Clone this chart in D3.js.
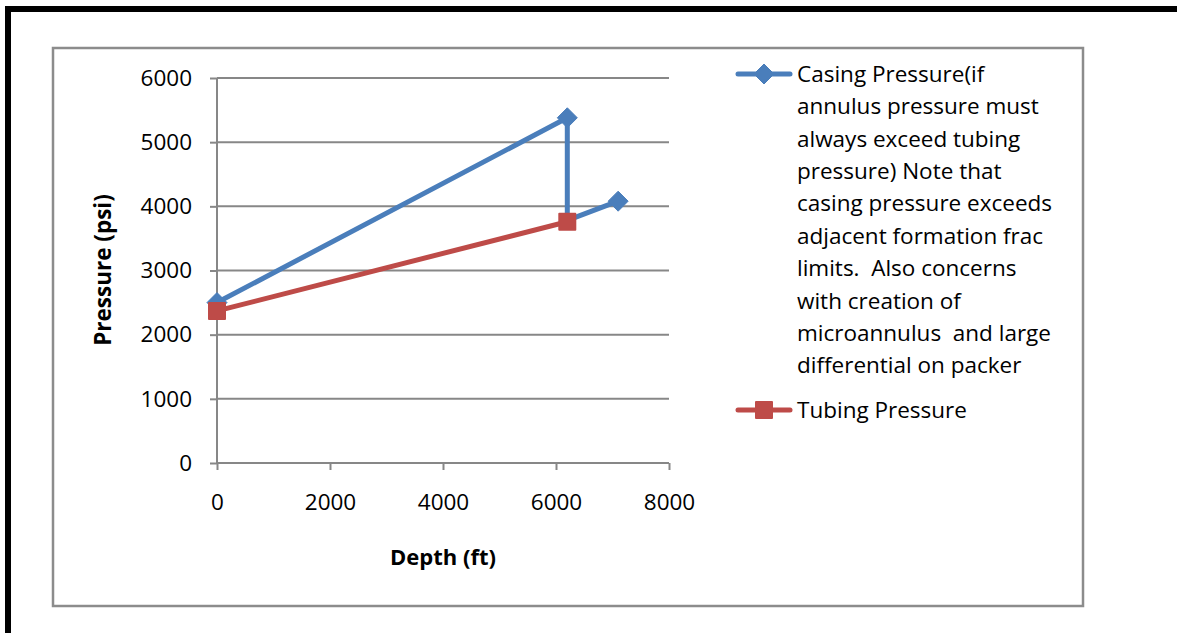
<!DOCTYPE html>
<html>
<head>
<meta charset="utf-8">
<script src="https://cdn.jsdelivr.net/npm/d3@7"></script>
<style>
  body { margin: 0; background: #fff; }
  text { font-family: "Open Sans", "Noto Sans", sans-serif; fill: #000; white-space: pre; }
</style>
</head>
<body>
<div id="graph"></div>
<script>
// data
const casingDepth = [0, 6200, 6200, 7100];
const casingPressure = [2500, 5380, 3780, 4080];
const tubingDepth = [0, 6200];
const tubingPressure = [2370, 3760];
const xTicks = [0, 2000, 4000, 6000, 8000];
const yTicks = [0, 1000, 2000, 3000, 4000, 5000, 6000];
const legendCasing = ["Casing Pressure(if", "annulus pressure must", "always exceed tubing",
  "pressure) Note that", "casing pressure exceeds", "adjacent formation frac",
  "limits.  Also concerns", "with creation of", "microannulus  and large",
  "differential on packer"];
const legendTubing = ["Tubing Pressure"];

const W = 1177, H = 633;
const svg = d3.select("#graph").append("svg")
  .attr("width", W).attr("height", H);

// outer black frame (top and left)
svg.append("rect").attr("x", 5).attr("y", 6).attr("width", W - 5).attr("height", 6).attr("fill", "#000");
svg.append("rect").attr("x", 5).attr("y", 6).attr("width", 6).attr("height", H - 6).attr("fill", "#000");

// grey chart frame
svg.append("rect").attr("x", 53).attr("y", 48).attr("width", 1030).attr("height", 558)
  .attr("fill", "none").attr("stroke", "#8c8c8c").attr("stroke-width", 2.5);

const x = d3.scaleLinear().domain([0, 8000]).range([217, 669]);
const y = d3.scaleLinear().domain([0, 6000]).range([463, 78]);

// gridlines
svg.append("g").selectAll("line").data(yTicks.filter(d => d > 0)).join("line")
  .attr("x1", x(0)).attr("x2", x(8000))
  .attr("y1", d => y(d)).attr("y2", d => y(d))
  .attr("stroke", "#878787").attr("stroke-width", 2);

// axes
const xAxis = svg.append("g").attr("transform", `translate(0,${y(0)})`)
  .call(d3.axisBottom(x).tickValues(xTicks).tickSize(7).tickPadding(24).tickFormat(d3.format("d")));
const yAxis = svg.append("g").attr("transform", `translate(${x(0)},0)`)
  .call(d3.axisLeft(y).tickValues(yTicks).tickSize(7).tickPadding(18).tickFormat(d3.format("d")));
[xAxis, yAxis].forEach(a => {
  a.select(".domain").attr("stroke", "#878787").attr("stroke-width", 2).attr("d",
    a === xAxis ? `M${x(0)},0H${x(8000)}` : `M0,${y(0)}V${y(6000)}`);
  a.selectAll(".tick line").attr("stroke", "#878787").attr("stroke-width", 2);
  a.selectAll(".tick text").attr("font-size", 22.5).attr("font-family", "Open Sans, sans-serif").attr("fill", "#000");
});

// axis titles
svg.append("text").attr("x", 443).attr("y", 565).attr("text-anchor", "middle")
  .attr("font-size", 22).attr("font-weight", "bold").text("Depth (ft)");
svg.append("text").attr("transform", "translate(111,270) rotate(-90)").attr("text-anchor", "middle")
  .attr("font-size", 22.5).attr("font-weight", "bold").text("Pressure (psi)");

const line = d3.line().x(d => x(d[0])).y(d => y(d[1]));
const casing = casingDepth.map((d, i) => [d, casingPressure[i]]);
const tubing = tubingDepth.map((d, i) => [d, tubingPressure[i]]);
const blue = "#4a7ebb", red = "#be4b48";

function diamond(g, cx, cy) {
  g.append("path").attr("d", `M${cx},${cy - 10}L${cx + 10},${cy}L${cx},${cy + 10}L${cx - 10},${cy}Z`)
    .attr("fill", blue).attr("stroke", blue).attr("stroke-width", 1).attr("stroke-linejoin", "round");
}
function square(g, cx, cy) {
  g.append("rect").attr("x", cx - 9).attr("y", cy - 9).attr("width", 18).attr("height", 18)
    .attr("rx", 1).attr("fill", red);
}

svg.append("path").datum(casing).attr("d", line).attr("fill", "none")
  .attr("stroke", blue).attr("stroke-width", 5).attr("stroke-linejoin", "round");
const cm = svg.append("g");
casing.forEach((d, i) => { if (i !== 2) diamond(cm, x(d[0]), y(d[1])); });

svg.append("path").datum(tubing).attr("d", line).attr("fill", "none")
  .attr("stroke", red).attr("stroke-width", 5).attr("stroke-linejoin", "round");
const tm = svg.append("g");
tubing.forEach(d => square(tm, x(d[0]), y(d[1])));

// legend
const lg = svg.append("g");
lg.append("line").attr("x1", 738).attr("x2", 790).attr("y1", 74).attr("y2", 74)
  .attr("stroke", blue).attr("stroke-width", 5).attr("stroke-linecap", "round");
diamond(lg, 764, 74);
lg.append("text").attr("x", 797).attr("y", 74).attr("font-size", 22.5)
  .selectAll("tspan").data(legendCasing).join("tspan")
  .attr("x", 797).attr("dy", (d, i) => i === 0 ? "0.35em" : 32.4).text(d => d);

lg.append("line").attr("x1", 738).attr("x2", 790).attr("y1", 410).attr("y2", 410)
  .attr("stroke", red).attr("stroke-width", 5).attr("stroke-linecap", "round");
square(lg, 764, 410);
lg.append("text").attr("x", 797).attr("y", 410).attr("dy", "0.35em").attr("font-size", 22.5)
  .text(legendTubing[0]);
</script>
</body>
</html>
